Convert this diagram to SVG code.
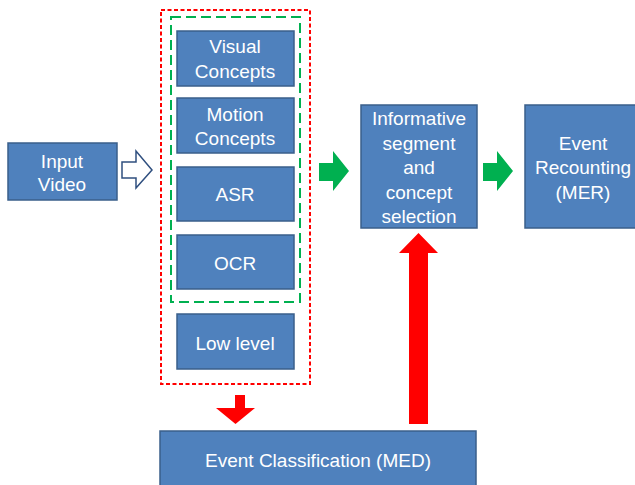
<svg xmlns="http://www.w3.org/2000/svg" width="635" height="485" viewBox="0 0 635 485">
<style>
.box{fill:#4F81BD;stroke:#3A5F8B;stroke-width:1.5}
.t{font-family:"Liberation Sans",Arial,sans-serif;font-size:19px;fill:#FFFFFF;text-anchor:middle;dominant-baseline:central}
.grn{fill:#00B050}
.red{fill:#FF0000}
</style>
<rect width="635" height="485" fill="#FFFFFF"/>
<g id="groups">
<rect x="161" y="10" width="149" height="374" fill="none" stroke="#FF0000" stroke-width="2" stroke-dasharray="4,2.5"/>
<rect x="171" y="17" width="129" height="285" fill="none" stroke="#00B050" stroke-width="2" stroke-dasharray="10,5"/>
</g>
<g id="input"><rect class="box" x="8" y="143" width="109" height="57"/><text class="t" x="62" y="161">Input</text><text class="t" x="62" y="184">Video</text></g>
<g id="visual"><rect class="box" x="177" y="31" width="117" height="55"/><text class="t" x="235" y="46">Visual</text><text class="t" x="235" y="71">Concepts</text></g>
<g id="motion"><rect class="box" x="177" y="98" width="117" height="55"/><text class="t" x="235" y="114">Motion</text><text class="t" x="235" y="138">Concepts</text></g>
<g id="asr"><rect class="box" x="177" y="167" width="117" height="54"/><text class="t" x="235" y="194">ASR</text></g>
<g id="ocr"><rect class="box" x="177" y="235" width="117" height="54"/><text class="t" x="235" y="263">OCR</text></g>
<g id="lowlevel"><rect class="box" x="177" y="314" width="117" height="55"/><text class="t" x="235" y="343">Low level</text></g>
<g id="informative"><rect class="box" x="361" y="105" width="116" height="123"/><text class="t" x="419" y="118">Informative</text><text class="t" x="419" y="143">segment</text><text class="t" x="419" y="167">and</text><text class="t" x="419" y="192">concept</text><text class="t" x="419" y="216">selection</text></g>
<g id="recounting"><rect class="box" x="525" y="105" width="116" height="123"/><text class="t" x="583" y="143">Event</text><text class="t" x="583" y="167">Recounting</text><text class="t" x="583" y="192">(MER)</text></g>
<g id="classification"><rect class="box" x="160" y="431" width="316" height="60"/><text class="t" x="318" y="460">Event Classification (MED)</text></g>
<g id="connectors">
<polygon points="122,162 136,162 136,151 152,170 136,188 136,178 122,178" fill="#FFFFFF" stroke="#2F4F7F" stroke-width="1.5"/>
<polygon class="grn" points="319,163 333,163 333,151 349,171 333,191 333,181 319,181"/>
<polygon class="grn" points="483,163 497,163 497,151 513,171 497,191 497,181 483,181"/>
<polygon class="red" points="235,395 245,395 245,408 255,408 235.5,424 216,408 235,408"/>
<polygon class="red" points="409,424 428,424 428,253 438,253 418.5,233 399,253 409,253"/>
</g>
</svg>
